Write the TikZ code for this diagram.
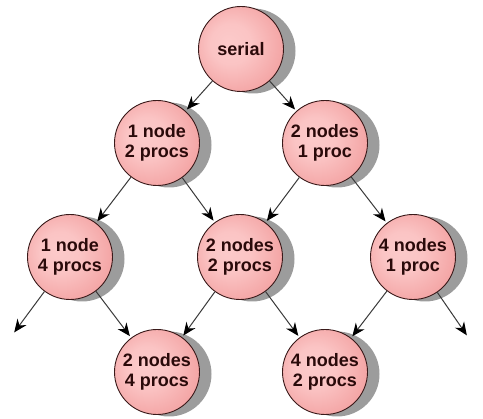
\documentclass[tikz,border=0pt]{standalone}
\usepackage{fontspec}
\setmainfont{Liberation Sans}
\usetikzlibrary{arrows.meta,shadows}
\definecolor{procinner}{HTML}{FCCACA}
\definecolor{procouter}{HTML}{F3A2A2}
\definecolor{procline}{HTML}{3A1A1A}
\definecolor{proctext}{HTML}{2A0A0A}
\definecolor{linkgray}{HTML}{3A3A3A}
\definecolor{shadowgray}{HTML}{9C9C9C}
\pgfdeclareradialshading{procshade}{\pgfpoint{-8bp}{4bp}}{%
  color(0bp)=(procinner); color(12bp)=(procinner!85!procouter);
  color(30bp)=(procouter); color(50bp)=(procouter)}
\begin{document}
\begin{tikzpicture}[x=1pt,y=-1pt,
  proc/.style={circle, minimum size=85pt, inner sep=0pt, draw=procline,
    line width=0.9pt, shading=procshade,
    text=proctext, align=center,
    font=\bfseries\fontsize{18}{20.5}\selectfont,
    drop shadow={shadow xshift=12pt, shadow yshift=-2pt, fill=shadowgray, opacity=1}},
  link/.style={draw=linkgray, line width=1pt,
    -{Stealth[length=13pt,width=11pt,color=black]}, shorten >=2pt}]
\useasboundingbox (0,0) rectangle (483,419);
\fill[white] (0,0) rectangle (483,419);

% level 1
\node[proc] (serial) at (241,49) {serial};
% level 2
\node[proc] (n1p2) at (157,143) {1 node\\2 procs};
\node[proc] (n2p1) at (325,143) {2 nodes\\1 proc};
% level 3
\node[proc] (n1p4) at (70,257) {1 node\\4 procs};
\node[proc] (n2p2) at (240,257) {2 nodes\\2 procs};
\node[proc] (n4p1) at (413,257) {4 nodes\\1 proc};
% level 4
\node[proc] (n2p4) at (157,372) {2 nodes\\4 procs};
\node[proc] (n4p2) at (325,372) {4 nodes\\2 procs};

% open ends of the tree
\coordinate (leftend) at (13,334);
\coordinate (rightend) at (468,337);

\draw[link] (serial) -- (n1p2);
\draw[link] (serial) -- (n2p1);
\draw[link] (n1p2) -- (n1p4);
\draw[link] (n1p2) -- (n2p2);
\draw[link] (n2p1) -- (n2p2);
\draw[link] (n2p1) -- (n4p1);
\draw[link] (n1p4) -- (leftend);
\draw[link] (n1p4) -- (n2p4);
\draw[link] (n2p2) -- (n2p4);
\draw[link] (n2p2) -- (n4p2);
\draw[link] (n4p1) -- (n4p2);
\draw[link] (n4p1) -- (rightend);
\end{tikzpicture}
\end{document}
